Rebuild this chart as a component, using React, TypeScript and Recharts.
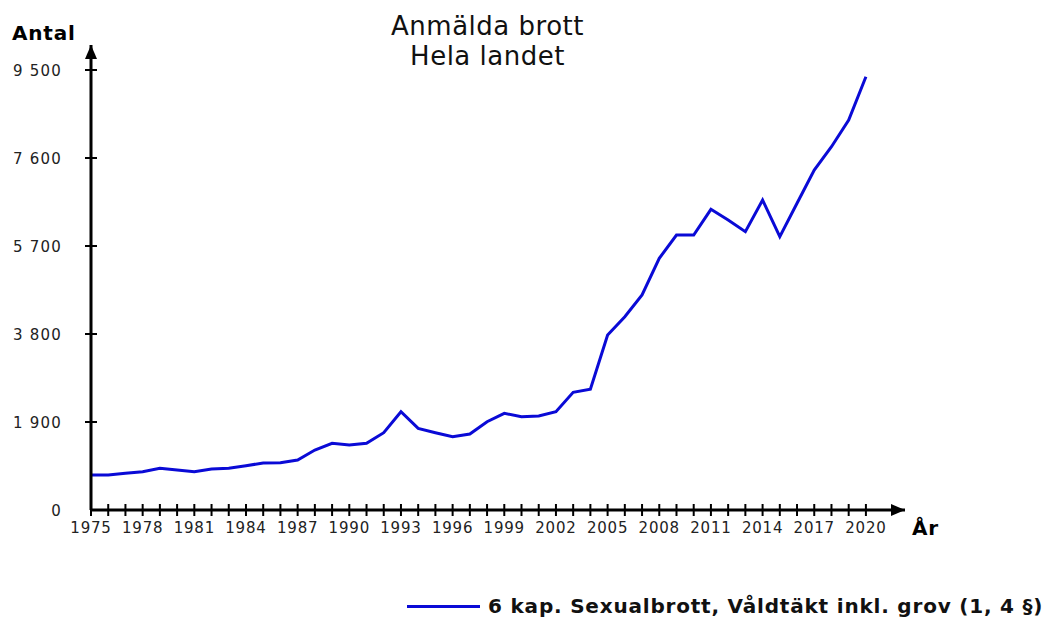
import React from "react";
import { LineChart, Line, XAxis, YAxis, ReferenceDot } from "recharts";

// Anmälda brott, hela landet – 6 kap. våldtäkt inkl. grov
const years = [
  1975, 1976, 1977, 1978, 1979, 1980, 1981, 1982, 1983, 1984, 1985, 1986,
  1987, 1988, 1989, 1990, 1991, 1992, 1993, 1994, 1995, 1996, 1997, 1998,
  1999, 2000, 2001, 2002, 2003, 2004, 2005, 2006, 2007, 2008, 2009, 2010,
  2011, 2012, 2013, 2014, 2015, 2016, 2017, 2018, 2019, 2020,
];
const reported = [
  756, 756, 792, 827, 900, 864, 827, 885, 900, 957, 1015, 1022,
  1080, 1295, 1440, 1403, 1440, 1669, 2122, 1763, 1669, 1583, 1641, 1907,
  2087, 2015, 2029, 2122, 2541, 2606, 3778, 4173, 4642, 5434, 5937, 5937,
  6492, 6261, 6009, 6693, 5901, 6622, 7341, 7844, 8420, 9355,
];
const yTicks = [0, 1900, 3800, 5700, 7600, 9500];
const seriesName = "6 kap. Sexualbrott, Våldtäkt inkl. grov (1, 4 §)";

const data = years.map((y, i) => ({ year: y, value: reported[i] }));

const X_MAX = 2022.27;
const Y_MAX = 10040;
const FONT = "'DejaVu Sans', Verdana, sans-serif";

const fmt = (v: number) => {
  const s = String(v);
  return s.length > 3 ? s.slice(0, -3) + " " + s.slice(-3) : s;
};

const XTick = (props: any) => {
  const { x, y, payload } = props;
  const yr = payload.value as number;
  return (
    <g>
      <line x1={x} x2={x} y1={y - 6} y2={y + 6} stroke="#000" strokeWidth={2} />
      {(yr - 1975) % 3 === 0 && (
        <text x={x} y={y + 23} textAnchor="middle" fontSize={15} letterSpacing={0.8} fontFamily={FONT} fill="#222">
          {yr}
        </text>
      )}
    </g>
  );
};

const YTick = (props: any) => {
  const { x, y, payload } = props;
  return (
    <g>
      {payload.value !== 0 && (
        <line x1={x - 6} x2={x + 6} y1={y} y2={y} stroke="#000" strokeWidth={2} />
      )}
      <text x={x - 29} y={y + 6} textAnchor="end" fontSize={15} letterSpacing={1.2} fontFamily={FONT} fill="#222">
        {fmt(payload.value)}
      </text>
    </g>
  );
};

const RightArrow = (props: any) => {
  const { cx, cy } = props;
  return <path d={`M${cx},${cy} L${cx - 14},${cy - 6} L${cx - 14},${cy + 6} Z`} fill="#000" />;
};

const UpArrow = (props: any) => {
  const { cx, cy } = props;
  return <path d={`M${cx},${cy} L${cx - 6},${cy + 14} L${cx + 6},${cy + 14} Z`} fill="#000" />;
};

export default function App() {
  return (
    <div
      style={{
        position: "absolute",
        left: 0,
        top: 0,
        width: 1051,
        height: 623,
        background: "#fff",
        overflow: "hidden",
        fontFamily: FONT,
      }}
    >
      <div
        style={{
          position: "absolute",
          left: 0,
          width: 975,
          top: 11,
          textAlign: "center",
          fontSize: 26,
          letterSpacing: 0.5,
          lineHeight: "30px",
          color: "#111",
        }}
      >
        Anmälda brott
        <br />
        Hela landet
      </div>
      <div style={{ position: "absolute", left: 12, top: 21, fontSize: 20, letterSpacing: 0.8, fontWeight: "bold" }}>
        Antal
      </div>
      <div style={{ position: "absolute", left: 912, top: 516, fontSize: 20, letterSpacing: 0.8, fontWeight: "bold" }}>
        År
      </div>

      <LineChart
        width={1051}
        height={623}
        data={data}
        margin={{ top: 45, right: 146, left: 31, bottom: 83 }}
      >
        <XAxis
          dataKey="year"
          type="number"
          domain={[1975, X_MAX]}
          ticks={years}
          interval={0}
          height={30}
          tickLine={false}
          tickSize={0}
          tickMargin={0}
          axisLine={{ stroke: "#000", strokeWidth: 3 }}
          tick={<XTick />}
        />
        <YAxis
          type="number"
          domain={[0, Y_MAX]}
          ticks={yTicks}
          interval={0}
          width={60}
          tickLine={false}
          tickSize={0}
          tickMargin={0}
          axisLine={{ stroke: "#000", strokeWidth: 3 }}
          tick={<YTick />}
        />
        <Line
          type="linear"
          dataKey="value"
          name={seriesName}
          stroke="#0a0ad6"
          strokeWidth={3}
          dot={false}
          isAnimationActive={false}
        />
        <ReferenceDot x={X_MAX} y={0} r={0} ifOverflow="visible" shape={<RightArrow />} />
        <ReferenceDot x={1975} y={Y_MAX} r={0} ifOverflow="visible" shape={<UpArrow />} />
      </LineChart>

      <div
        style={{
          position: "absolute",
          left: 407,
          top: 594,
          display: "flex",
          alignItems: "center",
          whiteSpace: "nowrap",
          fontSize: 20,
          fontWeight: "bold",
          letterSpacing: 0.8,
          color: "#111",
        }}
      >
        <span style={{ display: "inline-block", width: 73, height: 3, background: "#0a0ad6", marginRight: 8 }} />
        {seriesName}
      </div>
    </div>
  );
}
